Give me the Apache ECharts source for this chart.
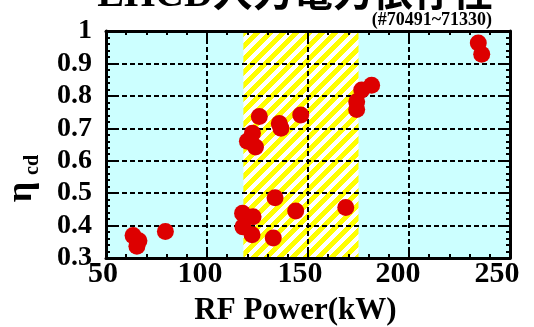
<!DOCTYPE html>
<html>
<head>
<meta charset="utf-8">
<script src="https://cdn.jsdelivr.net/npm/echarts@6/dist/echarts.min.js"></script>
<style>
  html, body { margin: 0; padding: 0; background: #fff; }
  #chart { width: 534px; height: 327px; }
</style>
</head>
<body>
<div id="chart"></div>
<script>
// LHCD current-drive efficiency versus launched RF power
const powerKW = [63.4, 66.3, 65.3, 79.4,
                 117.6, 122.8, 117.8, 122.3, 133.7, 143.9, 132.8, 168.7,
                 122.5, 120.0, 124.0, 125.9, 135.8, 136.6, 146.4,
                 174.1, 174.1, 176.6, 181.5, 234.3, 236.0];
const etaCD = [0.369, 0.353, 0.336, 0.382,
               0.438, 0.427, 0.396, 0.372, 0.486, 0.445, 0.362, 0.456,
               0.685, 0.660, 0.642, 0.736, 0.715, 0.700, 0.741,
               0.758, 0.782, 0.818, 0.833, 0.963, 0.928];

// hatched operating window (kW)
const bandKW = [118, 175];

const xTicks = [50, 100, 150, 200, 250];
const yTicks = [0.3, 0.4, 0.5, 0.6, 0.7, 0.8, 0.9, 1.0];

const titleText = 'LHCD入力電力依存性';
const shotText = '(#70491~71330)';
const xName = 'RF Power(kW)';

const SERIF = '"Liberation Serif", "Times New Roman", "Noto Sans CJK JP", serif';

// diagonal yellow/white stripe tile
function stripeTile(p) {
  const c = document.createElement('canvas');
  c.width = p; c.height = p;
  const ctx = c.getContext('2d');
  const img = ctx.createImageData(p, p);
  for (let y = 0; y < p; y++) {
    for (let x = 0; x < p; x++) {
      const k = ((x + y) % p + p) % p;
      const yellow = k < p * 0.5;
      const i = (y * p + x) * 4;
      img.data[i] = 255; img.data[i + 1] = 255; img.data[i + 2] = yellow ? 0 : 255; img.data[i + 3] = 255;
    }
  }
  ctx.putImageData(img, 0, 0);
  return c;
}

// small per-label nudges of the x tick labels
const xLabelPad = {50: 6, 100: 14, 150: 16, 200: 22, 250: 26};
const xRich = {};
xTicks.forEach(v => { xRich['t' + v] = {padding: [0, xLabelPad[v], 0, 0]}; });

const tickCommon = {
  axisLine: {show: true, lineStyle: {color: '#000', width: 3}},
  axisTick: {show: true, inside: true, length: 8, lineStyle: {color: '#000', width: 2}},
  minorTick: {show: true, splitNumber: 5, length: 4, lineStyle: {color: '#000', width: 2}}
};

const gridLine = {show: true, lineStyle: {color: '#000', width: 2, type: [5, 3]}};

const option = {
  animation: false,
  grid: {left: 106, right: 24, top: 31, bottom: 69, show: true,
         backgroundColor: '#ccffff', borderWidth: 0, z: 0},
  xAxis: [
    Object.assign({
      type: 'value', position: 'bottom', min: xTicks[0], max: xTicks[xTicks.length - 1], interval: 50, z: 2,
      splitLine: gridLine,
      axisLabel: {show: true, margin: 1, color: '#000', fontFamily: SERIF, fontWeight: 'bold', fontSize: 30,
                  formatter: v => '{t' + v + '|' + v + '}', rich: xRich}
    }, tickCommon),
    Object.assign({
      type: 'value', position: 'top', min: xTicks[0], max: xTicks[xTicks.length - 1], interval: 50, z: 2,
      splitLine: {show: false}, axisLabel: {show: false}
    }, tickCommon)
  ],
  yAxis: [
    Object.assign({
      type: 'value', position: 'left', min: yTicks[0], max: yTicks[yTicks.length - 1], interval: 0.1, z: 2,
      splitLine: gridLine,
      axisLabel: {show: true, margin: 14, color: '#000', fontFamily: SERIF, fontWeight: 'bold', fontSize: 28}
    }, tickCommon),
    Object.assign({
      type: 'value', position: 'right', min: yTicks[0], max: yTicks[yTicks.length - 1], interval: 0.1, z: 2,
      splitLine: {show: false}, axisLabel: {show: false}
    }, tickCommon)
  ],
  series: [
    {
      type: 'line', data: [], z: 1, silent: true,
      markArea: {
        silent: true,
        itemStyle: {color: {image: stripeTile(13), repeat: 'repeat'}},
        data: [[{xAxis: bandKW[0]}, {xAxis: bandKW[1]}]]
      }
    },
    {
      type: 'scatter', z: 3, symbol: 'circle', symbolSize: 17,
      itemStyle: {color: '#dd0000', opacity: 1},
      data: powerKW.map((p, i) => [p, etaCD[i]])
    }
  ],
  graphic: [
    {type: 'text', x: 295, y: 16, z: 10,
     style: {text: titleText, fontSize: 40, fontWeight: 'bold', fontFamily: SERIF, fill: '#000',
             align: 'center', verticalAlign: 'bottom'}},
    {type: 'text', x: 492, y: 20, z: 10,
     style: {text: shotText, fontSize: 18, fontWeight: 'bold', fontFamily: SERIF, fill: '#000',
             align: 'right', verticalAlign: 'middle'}},
    {type: 'text', x: 295.5, y: 311, z: 10,
     style: {text: xName, fontSize: 31, fontWeight: 'bold', fontFamily: SERIF, fill: '#000',
             align: 'center', verticalAlign: 'middle'}},
    {type: 'text', x: 22, y: 192, z: 10, rotation: Math.PI / 2,
     style: {text: 'η', fontSize: 36, fontWeight: 'bold', fontFamily: SERIF, fill: '#000',
             align: 'center', verticalAlign: 'middle'}},
    {type: 'text', x: 33, y: 165, z: 10, rotation: Math.PI / 2,
     style: {text: 'cd', fontSize: 20, fontWeight: 'bold', fontFamily: SERIF, fill: '#000',
             align: 'center', verticalAlign: 'middle'}}
  ]
};

const chart = echarts.init(document.getElementById('chart'), null, {renderer: 'canvas'});
chart.setOption(option);
</script>
</body>
</html>
